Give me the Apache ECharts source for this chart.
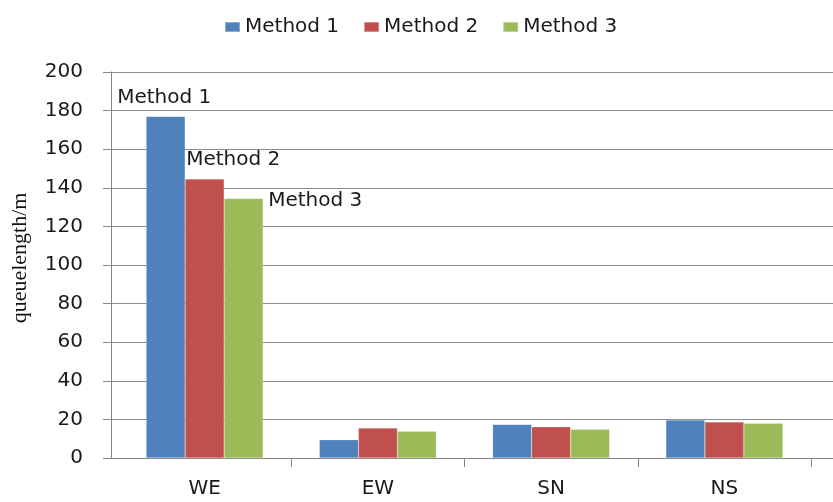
<!DOCTYPE html>
<html>
<head>
<meta charset="utf-8">
<script src="https://cdn.jsdelivr.net/npm/echarts@6/dist/echarts.min.js"></script>
<style>html,body{margin:0;padding:0;background:#fff}#c{width:833px;height:502px}</style>
</head>
<body>
<div id="c"></div>
<script>
const categories = ['WE', 'EW', 'SN', 'NS'];
const seriesNames = ['Method 1', 'Method 2', 'Method 3'];
const method1 = [177, 9.5, 17.4, 19.7];
const method2 = [144.5, 15.5, 16.2, 18.7];
const method3 = [134.5, 13.9, 14.9, 18];
const yTicks = { min: 0, max: 200, interval: 20 };
const yName = 'queuelength/m';

const colors = ['#4F81BD', '#C0504D', '#9BBB59'];
const labelPos = [[-29, -19], [1, -19], [44, 2]];
const font = 'DejaVu Sans';

const chart = echarts.init(document.getElementById('c'), null, { renderer: 'canvas' });

function makeSeries(name, values, i) {
  return {
    name: name,
    type: 'bar',
    xAxisIndex: 1,
    yAxisIndex: 1,
    barWidth: 39,
    barGap: '0%',
    itemStyle: { color: colors[i], borderColor: 'rgba(255,255,255,0.35)', borderWidth: 0.5 },
    emphasis: { disabled: true },
    data: values.map((v, k) => k === 0 ? {
      value: v,
      label: {
        show: true,
        formatter: name,
        position: labelPos[i],
        align: 'left',
        verticalAlign: 'middle',
        fontFamily: font,
        fontSize: 20,
        color: '#1a1a1a'
      }
    } : v)
  };
}

const option = {
  animation: false,
  backgroundColor: '#fff',
  legend: {
    top: 12,
    left: 219,
    itemWidth: 15,
    itemHeight: 10,
    itemGap: 24,
    icon: 'rect',
    textStyle: { fontFamily: font, fontSize: 20, color: '#1a1a1a' },
    data: seriesNames
  },
  grid: [
    { left: 111, right: -2, top: 72, bottom: 44, containLabel: false },
    { left: 118, right: 22, top: 72, bottom: 44, containLabel: false }
  ],
  xAxis: [
    {
      gridIndex: 0, type: 'value', min: 0, max: 1,
      axisLine: { show: true, onZero: false, lineStyle: { color: '#868686', width: 1 } },
      axisTick: { show: false }, axisLabel: { show: false }, splitLine: { show: false }
    },
    {
      gridIndex: 1, type: 'category', data: categories,
      axisLine: { show: false },
      axisTick: { show: true, length: 9, lineStyle: { color: '#868686' }, interval: function (idx) { return idx !== 0; } },
      axisLabel: { fontFamily: font, fontSize: 20, color: '#1a1a1a', margin: 21 },
      splitLine: { show: false }
    }
  ],
  yAxis: [
    {
      gridIndex: 0, type: 'value', min: yTicks.min, max: yTicks.max, interval: yTicks.interval,
      name: yName, nameLocation: 'middle', nameRotate: 90, nameGap: 80,
      nameTextStyle: { fontFamily: 'Liberation Serif', fontSize: 22, color: '#111', padding: [0, 0, 0, 14] },
      axisLine: { show: true, lineStyle: { color: '#868686' } },
      axisTick: { show: true, length: 8, lineStyle: { color: '#868686' } },
      axisLabel: { fontFamily: font, fontSize: 20, color: '#1a1a1a', margin: 28 },
      splitLine: { show: true, lineStyle: { color: '#8c8c8c', width: 1 } }
    },
    {
      gridIndex: 1, type: 'value', min: yTicks.min, max: yTicks.max, interval: yTicks.interval,
      show: false
    }
  ],
  series: [
    makeSeries(seriesNames[0], method1, 0),
    makeSeries(seriesNames[1], method2, 1),
    makeSeries(seriesNames[2], method3, 2)
  ]
};
chart.setOption(option);
</script>
</body>
</html>
